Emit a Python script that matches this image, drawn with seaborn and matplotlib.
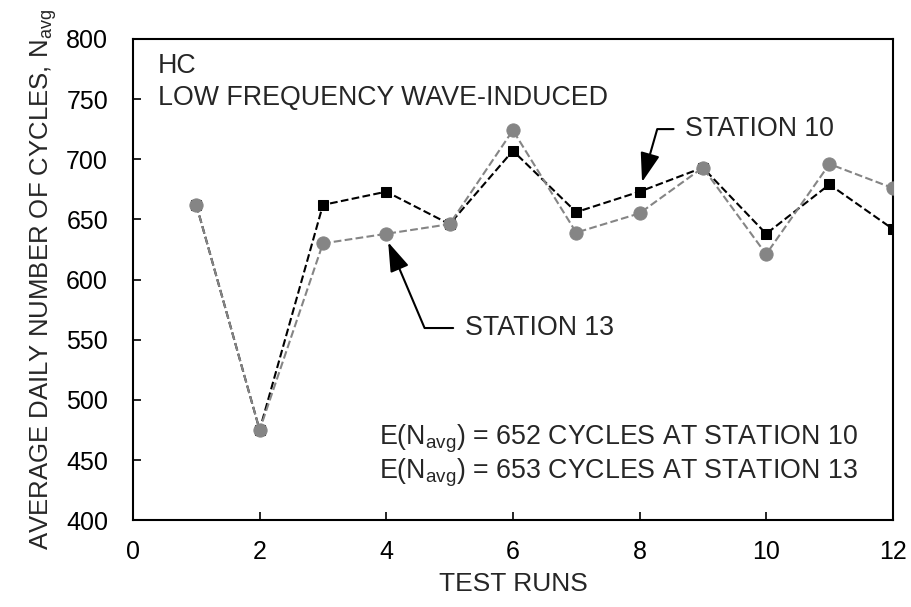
import numpy as np
import pandas as pd
import matplotlib
matplotlib.use("Agg")
import matplotlib.pyplot as plt
import seaborn as sns

# values
test_runs = [1, 2, 3, 4, 5, 6, 7, 8, 9, 10, 11, 12]
station_10 = [662, 475, 662, 673, 646, 707, 656, 673, 693, 638, 679, 642]
station_13 = [662, 475, 630, 638, 646, 724, 639, 655, 693, 621, 696, 676]

x_ticks = [0, 2, 4, 6, 8, 10, 12]
y_ticks = [400, 450, 500, 550, 600, 650, 700, 750, 800]

sns.set_style("ticks")
plt.rcParams["font.family"] = ["Liberation Sans", "DejaVu Sans"]
plt.rcParams["mathtext.fontset"] = "custom"
plt.rcParams["mathtext.rm"] = "Liberation Sans"
plt.rcParams["mathtext.it"] = "Liberation Sans:italic"
plt.rcParams["mathtext.default"] = "regular"

df = pd.DataFrame({"run": test_runs, "s10": station_10, "s13": station_13})

fig = plt.figure(figsize=(9.11, 6.07), dpi=100)
ax = fig.add_axes([0.146, 0.143, 0.834, 0.793])

sns.lineplot(data=df, x="run", y="s10", ax=ax, color="black", marker="s",
             markersize=7, markeredgecolor="black", linestyle="--", lw=1.5,
             dashes=(4, 2.5), zorder=2)
sns.lineplot(data=df, x="run", y="s13", ax=ax, color="#858585", marker="o",
             markersize=9.5, markeredgecolor="#858585", linestyle="--", lw=1.5,
             dashes=(5, 3), zorder=3)

ax.set_xlim(0, 12)
ax.set_ylim(400, 800)
ax.set_xticks(x_ticks)
ax.set_yticks(y_ticks)
ax.tick_params(direction="in", length=6, width=1.2, labelsize=18, colors="black")
ax.tick_params(axis="y", pad=18)
ax.tick_params(axis="x", pad=14)
for sp in ax.spines.values():
    sp.set_linewidth(1.5)
    sp.set_color("black")

ax.set_xlabel("TEST RUNS", fontsize=19, labelpad=6)
ax.set_ylabel("AVERAGE DAILY NUMBER OF CYCLES, N$_{avg}$", fontsize=18.5, labelpad=5)

fs = 19.3
ax.text(0.033, 0.944, "HC", transform=ax.transAxes, fontsize=fs, va="center", ha="left")
ax.text(0.033, 0.877, "LOW FREQUENCY WAVE-INDUCED", transform=ax.transAxes,
        fontsize=fs, va="center", ha="left")

ax.text(0.954, 0.170, "E(N$_{avg}$) = 652 CYCLES AT STATION 10", transform=ax.transAxes,
        fontsize=fs, va="center", ha="right")
ax.text(0.954, 0.098, "E(N$_{avg}$) = 653 CYCLES AT STATION 13", transform=ax.transAxes,
        fontsize=fs, va="center", ha="right")

arrow = dict(arrowstyle="-|>,head_length=0.9,head_width=0.3", color="black", lw=1.5,
             mutation_scale=20, shrinkA=6, shrinkB=0, relpos=(0, 0.5))
ax.annotate("STATION 10", xy=(8.04, 681), xytext=(8.72, 725), fontsize=fs,
            ha="left", va="center",
            arrowprops=dict(arrow, connectionstyle="angle,angleA=0,angleB=74,rad=0"))
ax.annotate("STATION 13", xy=(4.03, 631), xytext=(5.24, 559.7), fontsize=fs,
            ha="left", va="center",
            arrowprops=dict(arrow, connectionstyle="angle,angleA=0,angleB=-67,rad=0"))

fig.savefig("out.png", dpi=100)
